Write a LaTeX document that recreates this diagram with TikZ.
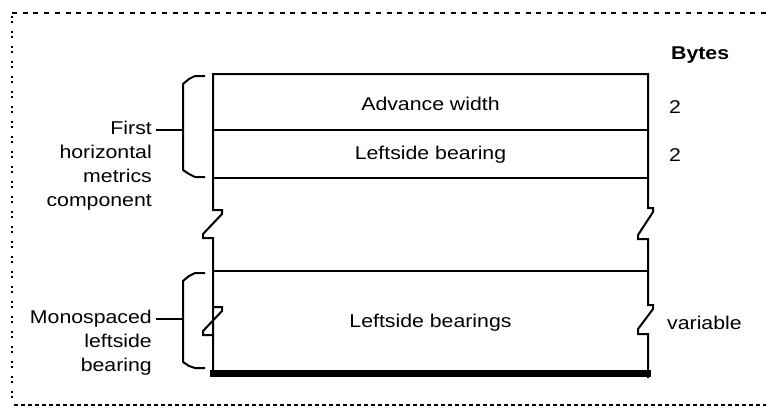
\documentclass[tikz,border=0pt]{standalone}
\usepackage{fontspec}
\setmainfont{Liberation Sans}[FakeStretch=1.15]
\begin{document}
\begin{tikzpicture}[x=1pt,y=-1pt,
  txt/.style={font=\fontsize{18.5}{24}\selectfont, inner sep=0pt},
  side/.style={txt, align=right, anchor=east},
  boxline/.style={line width=2pt, line cap=rect, line join=miter},
  bracepath/.style={line width=2pt, line join=round},
  lead/.style={line width=2pt}]
\useasboundingbox (0,0) rectangle (766,408);
% frame
\draw[line width=2pt, dash pattern=on 5pt off 5.7pt] (12,13) -- (766,13);
\draw[line width=2pt, dash pattern=on 2pt off 3pt on 2pt off 8pt] (12,16) -- (12,405);
\draw[line width=2pt, dash pattern=on 4pt off 3pt] (14,405) -- (766,405);
% box outline
\draw[boxline] (213,372) -- (213,238) -- (203,238) -- (203,234) -- (222,214) -- (222,210) -- (213,210)
  -- (213,74) -- (648,74) -- (648,208) -- (653,208) -- (653,212) -- (638,235) -- (638,239) -- (648,239) -- (648,305)
  -- (653,305) -- (653,309) -- (638,329) -- (638,334) -- (648,334) -- (648,377);
\draw[boxline] (213,335) -- (203,335) -- (203,331) -- (222,311) -- (222,307) -- (213,307);
\draw[boxline] (213,130) -- (648,130);
\draw[boxline] (213,178) -- (648,178);
\draw[boxline] (213,271) -- (648,271);
\draw[line width=7pt] (210,373) -- (651,373);
% row texts
\node[txt] (adv) at (430.5,104) {Advance width};
\node[txt] (lsb) at (430.5,155) {Leftside bearing};
\node[txt] (lsbs) at (430.5,323) {Leftside bearings};
% bytes column
\node[txt, font=\bfseries\fontsize{18.5}{24}\selectfont, anchor=west] (bytes) at (671,55) {Bytes};
\node[txt, anchor=west] (b1) at (669,107) {2};
\node[txt, anchor=west] (b2) at (669,155) {2};
\node[txt, anchor=west] (bv) at (667,323) {variable};
% braces
\coordinate (br1) at (183,130);
\coordinate (br2) at (183,319);
\draw[bracepath] (205,76) -- (195,76) -- (189,79) -- (183,84) -- (183,170) -- (189,174) -- (195,177) -- (205,177);
\draw[bracepath] (205,273) -- (195,273) -- (189,276) -- (183,281) -- (183,362) -- (189,366) -- (195,368) -- (205,368);
% side labels
\node[side] (first) at (152,166) {First\\horizontal\\metrics\\component};
\node[side] (mono) at (152,343) {Monospaced\\leftside\\bearing};
\coordinate (l1) at (156,130);
\coordinate (l2) at (156,319);
\draw[lead] (l1) -- (br1);
\draw[lead] (l2) -- (br2);
\end{tikzpicture}
\end{document}
